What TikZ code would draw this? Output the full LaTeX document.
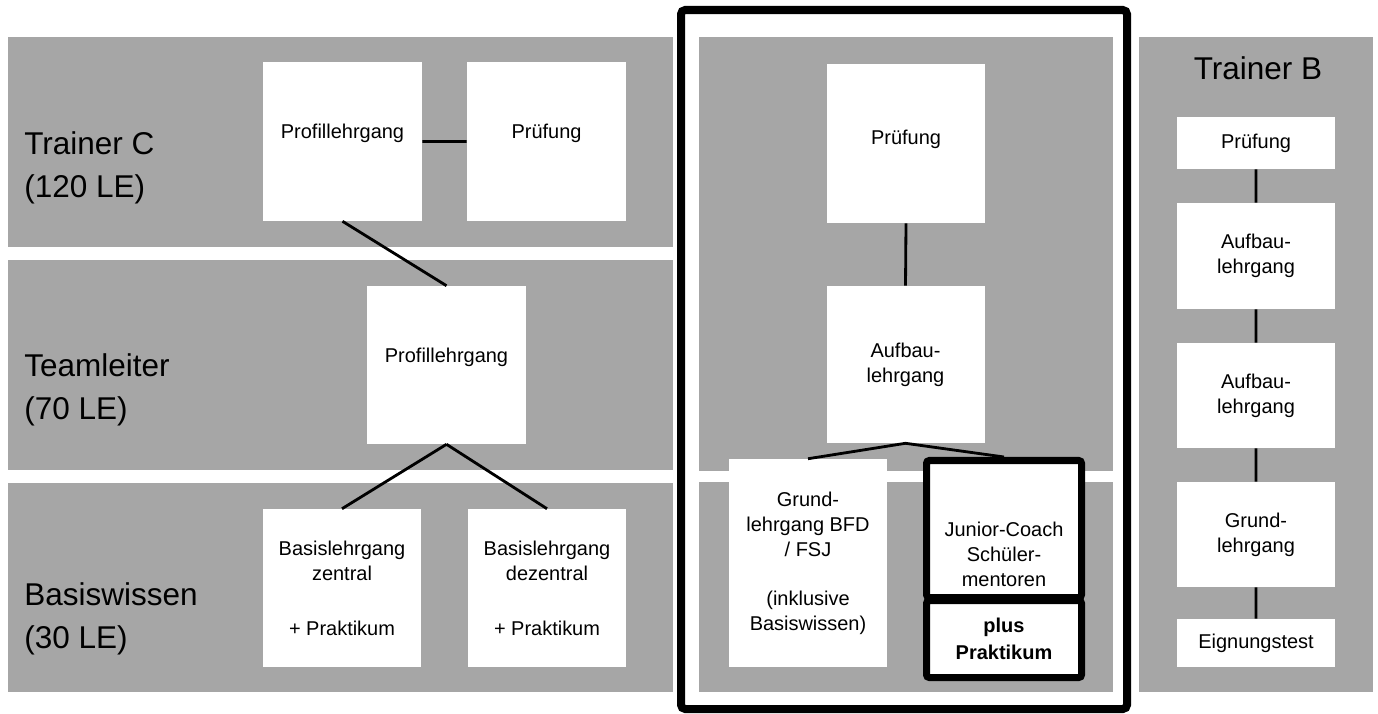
\documentclass[tikz,border=0pt]{standalone}
\usepackage{fontspec}
\setmainfont{Liberation Sans}
\usepackage{tikz}
\usetikzlibrary{positioning}
\definecolor{bandgray}{RGB}{166,166,166}
\newcommand{\kursfont}{\fontsize{14.2}{17.8}\selectfont}
\newcommand{\stufefont}{\fontsize{22.4}{30.6}\selectfont}

\begin{document}
\begin{tikzpicture}[x=0.025cm, y=-0.025cm,
	band/.style={fill=bandgray},
	kurs/.style 2 args={fill=white, inner sep=0pt, align=center, font=\kursfont, minimum width=#1*0.025cm, minimum height=#2*0.025cm},
	kurstext/.style={font=\kursfont, align=center, inner sep=0pt},
	rahmen/.style={draw=black, line width=5pt, rounded corners=2pt},
	verb/.style={line width=2pt},
	stufe/.style={font=\stufefont, align=left, anchor=west, inner sep=0pt}]
	
	\useasboundingbox (0,0) rectangle (1378,713);
	
	% Baender
	\fill[band] (8,37) rectangle (673,247);
	\fill[band] (8,260) rectangle (673,470);
	\fill[band] (8,483) rectangle (673,692);
	\fill[band] (699,37) rectangle (1113,471);
	\fill[band] (699,482) rectangle (1113,692);
	\fill[band] (1139,37) rectangle (1373,692);
	
	\node[stufe] (TC) at (24,168) {Trainer C\\(120 LE)};
	\node[stufe] (TL) at (24,390) {Teamleiter\\(70 LE)};
	\node[stufe] (BW) at (24,619) {Basiswissen\\(30 LE)};
	\node[font=\stufefont, inner sep=0pt] (TB) at (1258,68) {Trainer B};
	
	\draw
	(342.5,141.5) node[kurs={159}{159}, label={[kurstext, yshift=0.2cm]center:Profillehrgang}] (PROFC) {}
	(546.5,141.5) node[kurs={159}{159}, label={[kurstext, yshift=0.2cm]center:Prüfung}] (PRUEFC) {}
	(446.5,365) node[kurs={159}{158}, label={[kurstext, yshift=0.2cm]center:Profillehrgang}] (PROFT) {}
	(342,588) node[kurs={158}{158}] (BASISZ) {Basislehrgang\\zentral\\[0.75cm]+ Praktikum}
	(547,588) node[kurs={158}{158}] (BASISD) {Basislehrgang\\dezentral\\[0.75cm]+ Praktikum}
	
	(906,143.5) node[kurs={158}{159}, label={[kurstext, yshift=0.1cm]center:Prüfung}] (PRUEFM) {}
	(905.5,364.5) node[kurs={158}{157}] (AUFBM) {Aufbau-\\lehrgang}
	(808,563) node[kurs={158}{208}] (GRUNDM) {Grund-\\lehrgang BFD\\/ FSJ\\[0.6cm](inklusive\\Basiswissen)}
	(1004,529) node[kurs={155}{137}, rahmen, label={[kurstext, yshift=-0.625cm]center:Junior-Coach\\Schüler-\\mentoren}] (JUNIOR) {}
	(1004,639) node[kurs={155}{77}, rahmen, font=\fontsize{14.2}{19}\selectfont\bfseries] (PLUS) {plus\\Praktikum}
	
	(1256,143) node[kurs={158}{52}] (PRUEFB) {Prüfung}
	(1256,256) node[kurs={158}{106}] (AUFB1) {Aufbau-\\lehrgang}
	(1256,395.5) node[kurs={158}{105}] (AUFB2) {Aufbau-\\lehrgang}
	(1256,534.5) node[kurs={158}{105}] (GRUNDB) {Grund-\\lehrgang}
	(1256,643) node[kurs={158}{48}] (EIGN) {Eignungstest};
	
	\draw[verb]
	(PROFC.east) -- (PRUEFC.west)
	(PROFC.south) -- (PROFT.north)
	(PROFT.south) -- (BASISZ.north)
	(PROFT.south) -- (BASISD.north)
	
	(PRUEFM.south) -- (AUFBM.north)
	(AUFBM.south) -- (GRUNDM.north)
	(AUFBM.south) -- (JUNIOR.north)
	
	(PRUEFB.south) -- (AUFB1.north)
	(AUFB1.south) -- (AUFB2.north)
	(AUFB2.south) -- (GRUNDB.north)
	(GRUNDB.south) -- (EIGN.north);
	
	\draw[line width=5.7pt, rounded corners=3pt] (681,10) rectangle (1127,709);
\end{tikzpicture}
\end{document}
